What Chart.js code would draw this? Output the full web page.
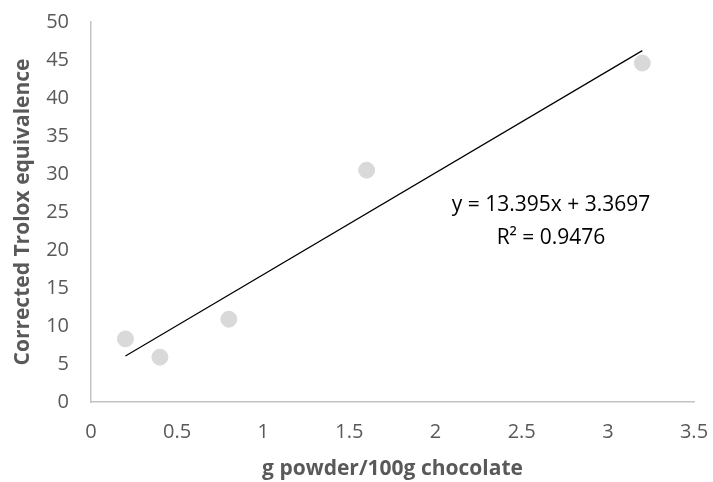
<!DOCTYPE html>
<html>
<head>
<meta charset="utf-8">
<script src="https://cdn.jsdelivr.net/npm/chart.js@4/dist/chart.umd.min.js"></script>
<style>
  html, body { margin: 0; padding: 0; background: #fff; }
  #wrap { width: 713px; height: 482px; }
</style>
</head>
<body>
<div id="wrap"><canvas id="trolox" width="713" height="482"></canvas></div>
<script>
// datos
const powderX = [0.2, 0.4, 0.8, 1.6, 3.2];
const troloxY = [8.3, 5.9, 10.9, 30.5, 44.6];
const xTicks = [0, 0.5, 1, 1.5, 2, 2.5, 3, 3.5];
const yTicks = [0, 5, 10, 15, 20, 25, 30, 35, 40, 45, 50];
const slope = 13.395;
const intercept = 3.3697;
const rSquared = 0.9476;

const fontFam = "'Open Sans', 'Liberation Sans', sans-serif";
const tickGrey = '#595959';

const puntos = powderX.map((x, i) => ({x: x, y: troloxY[i]}));
const xMin = Math.min(...powderX), xMax = Math.max(...powderX);
const tendencia = [
  {x: xMin, y: slope * xMin + intercept},
  {x: xMax, y: slope * xMax + intercept}
];

// texto de la ecuacion
const equationLabel = {
  id: 'equationLabel',
  afterDatasetsDraw(chart) {
    const ctx = chart.ctx;
    const xs = chart.scales.x, ys = chart.scales.y;
    const cx = xs.getPixelForValue(2.67);
    const cy = ys.getPixelForValue(25.9);
    ctx.save();
    ctx.fillStyle = '#000';
    ctx.font = '21px ' + fontFam;
    ctx.textAlign = 'center';
    ctx.textBaseline = 'middle';
    ctx.fillText('y = ' + slope + 'x + ' + intercept, cx, cy);
    ctx.fillText('R² = ' + rSquared, cx, cy + 33);
    ctx.restore();
  }
};

const config = {
  type: 'scatter',
  data: {
    datasets: [
      {
        label: 'datos',
        data: puntos,
        backgroundColor: '#d9d9d9',
        borderColor: '#d9d9d9',
        pointRadius: 8,
        pointHoverRadius: 8
      },
      {
        label: 'tendencia',
        type: 'line',
        data: tendencia,
        borderColor: '#000',
        borderWidth: 1.2,
        pointRadius: 0,
        fill: false
      }
    ]
  },
  options: {
    responsive: false,
    animation: false,
    layout: { padding: { top: 22, right: 19, left: 10, bottom: 0 } },
    plugins: { legend: { display: false }, tooltip: { enabled: false } },
    scales: {
      x: {
        type: 'linear',
        min: 0, max: 3.5,
        afterBuildTicks: s => { s.ticks = xTicks.map(v => ({value: v})); },
        afterFit: s => { s.height = 80; s.paddingLeft = 0; s.paddingRight = 0; },
        grid: { display: false, drawTicks: false },
        border: { color: '#c4c4c4', width: 1.5 },
        ticks: {
          color: tickGrey, font: { family: fontFam, size: 20 }, padding: 18, maxRotation: 0,
          callback: v => String(v)
        },
        title: {
          display: true,
          text: 'g powder/100g chocolate',
          color: tickGrey,
          font: { family: fontFam, size: 21, weight: 'bold' },
          padding: { top: 4, bottom: 0 }
        }
      },
      y: {
        type: 'linear',
        min: 0, max: 50,
        afterBuildTicks: s => { s.ticks = yTicks.map(v => ({value: v})); },
        afterFit: s => { s.width = 81; s.paddingTop = 0; s.paddingBottom = 0; },
        grid: { display: false, drawTicks: false },
        border: { color: '#c4c4c4', width: 1.5 },
        ticks: { color: tickGrey, font: { family: fontFam, size: 20 }, padding: 22 },
        title: {
          display: true,
          text: 'Corrected Trolox equivalence',
          color: tickGrey,
          font: { family: fontFam, size: 21, weight: 'bold' },
          padding: { top: 0, bottom: 0 }
        }
      }
    }
  },
  plugins: [equationLabel]
};

const troloxChart = new Chart(document.getElementById('trolox'), config);
</script>
</body>
</html>
